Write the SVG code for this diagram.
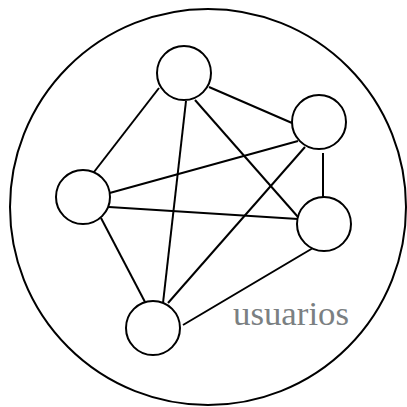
<svg xmlns="http://www.w3.org/2000/svg" width="407" height="407" viewBox="0 0 407 407">
<style>
.n{fill:#fff;stroke:#000;stroke-width:2}
.e line{stroke:#000;stroke-width:2}
.t{font-family:"Liberation Serif",serif;font-size:34px;fill:#7b8082}
</style>
<rect width="407" height="407" fill="#fff"/>
<g id="boundary"><circle cx="208" cy="207" r="198" fill="none" stroke="#000" stroke-width="2"/></g>
<g class="e" id="connectors">
<line x1="159" y1="88" x2="94" y2="172"/>
<line x1="209" y1="87" x2="292" y2="123"/>
<line x1="186" y1="101" x2="163" y2="303"/>
<line x1="195" y1="100" x2="298" y2="217"/>
<line x1="298" y1="141" x2="106" y2="194"/>
<line x1="323" y1="153" x2="323" y2="197"/>
<line x1="305" y1="147" x2="168" y2="303"/>
<line x1="109" y1="207" x2="298" y2="219"/>
<line x1="101" y1="218" x2="145" y2="302"/>
<line x1="313" y1="248" x2="183" y2="325"/>
</g>
<g id="node-top"><circle class="n" cx="184" cy="73" r="27"/></g>
<g id="node-right-top"><circle class="n" cx="319" cy="122" r="27"/></g>
<g id="node-left"><circle class="n" cx="83" cy="197" r="27"/></g>
<g id="node-right-bottom"><circle class="n" cx="324" cy="224" r="27"/></g>
<g id="node-bottom"><circle class="n" cx="153" cy="328" r="27"/></g>
<g id="label"><text class="t" x="233" y="325" textLength="116" lengthAdjust="spacingAndGlyphs">usuarios</text></g>
</svg>
